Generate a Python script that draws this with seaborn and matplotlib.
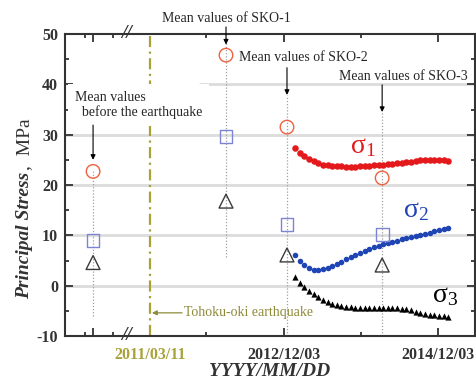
import numpy as np
import pandas as pd
import matplotlib
matplotlib.use("Agg")
import matplotlib.pyplot as plt
import matplotlib.transforms as mtransforms
import seaborn as sns

# ---- data -------------------------------------------------------------
EQ_DATE = pd.Timestamp("2011-03-11")          # Tohoku-oki earthquake

# continuous monitoring of principal stresses (MPa), every 22 days
monitor_dates = pd.date_range("2013-01-26", periods=34, freq="22D")
sigma1 = [27.3, 26.4, 25.7, 25.2, 24.7, 24.3, 24.0, 23.9, 23.8, 23.7,
          23.7, 23.6, 23.6, 23.6, 23.7, 23.7, 23.8, 23.9, 24.0, 24.0,
          24.1, 24.2, 24.3, 24.4, 24.5, 24.6, 24.7, 24.9, 25.0, 25.0,
          25.0, 24.9, 24.9, 24.8]
sigma2 = [6.1, 5.0, 4.1, 3.5, 3.2, 3.2, 3.3, 3.6, 4.0, 4.4,
          4.8, 5.2, 5.6, 6.0, 6.4, 6.8, 7.2, 7.6, 7.9, 8.2,
          8.5, 8.7, 8.9, 9.2, 9.4, 9.6, 9.9, 10.1, 10.3, 10.5,
          10.8, 11.0, 11.2, 11.5]
sigma3 = [1.8, 0.6, -0.2, -1.0, -1.7, -2.3, -2.9, -3.3, -3.7, -3.9,
          -4.1, -4.2, -4.3, -4.4, -4.4, -4.4, -4.4, -4.4, -4.4, -4.4,
          -4.4, -4.5, -4.5, -4.6, -4.7, -4.9, -5.2, -5.4, -5.6, -5.8,
          -5.9, -6.0, -6.1, -6.2]

# mean values of overcoring campaigns (MPa)
mean_groups = ["before", "SKO-1", "SKO-2", "SKO-3"]
mean_day = [-270, 360, 649, 1100]   # days after the earthquake (first one left of the axis break)
mean_s1 = [22.7, 45.8, 31.5, 21.4]
mean_s2 = [8.9, 29.7, 12.1, 10.1]
mean_s3 = [4.6, 16.8, 6.1, 4.1]

tick_dates = ["2011/03/11", "2012/12/03", "2014/12/03"]
minor_dates = ["2011/12/03", "2013/12/03"]

# ---- styling ------------------------------------------------------------
sns.set_style("white")
plt.rcParams["font.family"] = ["Liberation Serif", "DejaVu Serif"]
plt.rcParams["mathtext.fontset"] = "stix"
plt.rcParams["axes.unicode_minus"] = False

OLIVE = "#a8a238"
OLIVE_TXT = "#8e8a3a"
RED = "#e3191c"
BLUE = "#1f45b5"
C_OPEN = "#f0603e"
S_OPEN = "#7b84d6"
T_OPEN = "#3a3a3a"
GRID = "#dcdcdc"

fig = plt.figure(figsize=(4.77, 3.85), dpi=100)
ax = fig.add_axes([65 / 477, 49 / 385, 410 / 477, 302 / 385])

days = (monitor_dates - EQ_DATE).days.values
tick_days = [(pd.Timestamp(d) - EQ_DATE).days for d in tick_dates]
minor_days = [(pd.Timestamp(d) - EQ_DATE).days for d in minor_dates]

ax.set_xlim(-403, 1540)
ax.set_ylim(-10, 50)

# horizontal grid bands
for yv in [0, 10, 20, 30]:
    ax.axhline(yv, color=GRID, lw=2, zorder=0)
ax.axhline(40, xmin=0.33, color=GRID, lw=2, zorder=0)

# earthquake line
ax.axvline(0, color=OLIVE, lw=1.6, ls=(0, (5, 2, 1, 2)), zorder=1)

# dotted guides through the mean values
guide_spans = [(-6, 23.0), (5.6, 50), (-10, 37.9), (-10, 34.5)]
for xd, (lo, hi) in zip(mean_day, guide_spans):
    ax.plot([xd, xd], [lo, hi], color="#a0a0a0", lw=0.9, ls=(0, (1, 1.5)), zorder=1)

# monitoring curves
sns.scatterplot(x=days, y=sigma1, ax=ax, marker="o", s=22, color=RED,
                edgecolor=RED, linewidth=0, zorder=3)
sns.scatterplot(x=days, y=sigma2, ax=ax, marker="o", s=16, color=BLUE,
                edgecolor=BLUE, linewidth=0, zorder=3)
sns.scatterplot(x=days, y=sigma3, ax=ax, marker="^", s=20, color="black",
                edgecolor="black", linewidth=0, zorder=3)

# mean values (open symbols)
sns.scatterplot(x=mean_day, y=mean_s1, ax=ax, marker="o", s=95, color=C_OPEN,
                facecolor="none", edgecolor=C_OPEN, linewidth=1.0, zorder=4)
sns.scatterplot(x=mean_day, y=mean_s2, ax=ax, marker="s", s=85, color=S_OPEN,
                facecolor="none", edgecolor=S_OPEN, linewidth=1.0, zorder=4)
sns.scatterplot(x=mean_day, y=mean_s3, ax=ax, marker="^", s=100, color=T_OPEN,
                facecolor="none", edgecolor=T_OPEN, linewidth=1.0, zorder=4)

# component labels
ax.text(948, 26.3, r"$\mathregular{σ_1}$", color=RED, fontsize=20, ha="left", va="baseline", zorder=5)
ax.text(1199, 13.6, r"$\mathregular{σ_2}$", color=BLUE, fontsize=20, ha="left", va="baseline", zorder=5)
ax.text(1336, -3.3, r"$\mathregular{σ_3}$", color="black", fontsize=20, ha="left", va="baseline", zorder=5)

# annotations
arrow_kw = dict(arrowstyle="-|>", color="black", lw=0.8, mutation_scale=7, shrinkA=0, shrinkB=0)
arrows = [((-270, 31.9), (-270, 25.0)), ((360, 51.4), (360, 47.9)),
          ((649, 43.3), (649, 37.9)), ((1100, 39.9), (1100, 34.5))]
for start, end in arrows:
    ax.annotate("", xy=end, xytext=start, arrowprops=arrow_kw,
                annotation_clip=False, zorder=6)

ax.text(-355, 35.9, "Mean values\n  before the earthquake", fontsize=10, ha="left",
        va="center", linespacing=1.15, zorder=5,
        bbox=dict(facecolor="white", edgecolor="none", pad=5))
ax.text(360, 53.0, "Mean values of SKO-1", fontsize=10, ha="center", va="center",
        clip_on=False)
ax.text(725, 45.4, "Mean values of SKO-2", fontsize=10, ha="center", va="center", zorder=5)
ax.text(1199, 41.5, "Mean values of SKO-3", fontsize=10, ha="center", va="center", zorder=5)

ax.annotate("", xy=(9, -5.4), xytext=(152, -5.4),
            arrowprops=dict(arrowstyle="-|>", color=OLIVE_TXT, lw=0.9,
                            mutation_scale=7, shrinkA=0, shrinkB=0), zorder=5)
ax.text(160, -5.4, "Tohoku-oki earthquake", fontsize=10, color=OLIVE_TXT,
        ha="left", va="center", zorder=5)

# axis break marks on the top and bottom spines
trans = mtransforms.blended_transform_factory(ax.transData, ax.transAxes)
for yy in (0, 1):
    ax.text(-110, yy, "//", transform=trans, fontsize=14, fontweight="bold",
            style="italic", ha="center", va="center", color="#333333",
            clip_on=False, zorder=7)

# ticks
ax.set_yticks(np.arange(-10, 51, 10))
ax.set_yticks(np.arange(-5, 50, 10), minor=True)
ax.set_xticks([-270, tick_days[0], tick_days[1], tick_days[2]])
ax.set_xticklabels(["", tick_dates[0], tick_dates[1], tick_dates[2]])
ax.set_xticks([-308, -175] + minor_days, minor=True)
ax.tick_params(which="both", direction="in", top=True, right=True,
               bottom=True, left=True, color="#333333", width=1.3)
ax.tick_params(which="major", length=6, labelsize=11.5, pad=5)
ax.tick_params(axis="x", which="major", pad=8)
ax.tick_params(which="minor", length=3)
xt = ax.xaxis.get_major_ticks()
xt[1].tick1line.set_visible(False)
xt[1].tick2line.set_visible(False)
for lab in ax.get_xticklabels():
    lab.set_fontweight("bold")
    lab.set_color("#333333")
ax.get_xticklabels()[1].set_color(OLIVE)
for lab in ax.get_yticklabels():
    lab.set_fontweight("bold")
    lab.set_color("#333333")

for sp in ax.spines.values():
    sp.set_color("#333333")
    sp.set_linewidth(1.5)

# axis titles
fig.text(25 / 477, 1 - 172 / 385, "Principal Stress", rotation=90, fontsize=14,
         style="italic", fontweight="bold", color="#333333", ha="center", va="top")
fig.text(25 / 477, 1 - 170 / 385, ",  MPa", rotation=90, fontsize=14,
         color="#333333", ha="center", va="bottom")
fig.text(270 / 477, 1 - 372 / 385, "YYYY/MM/DD", fontsize=14, style="italic",
         fontweight="bold", color="#333333", ha="center", va="center")

fig.savefig("out.png", dpi=100)
